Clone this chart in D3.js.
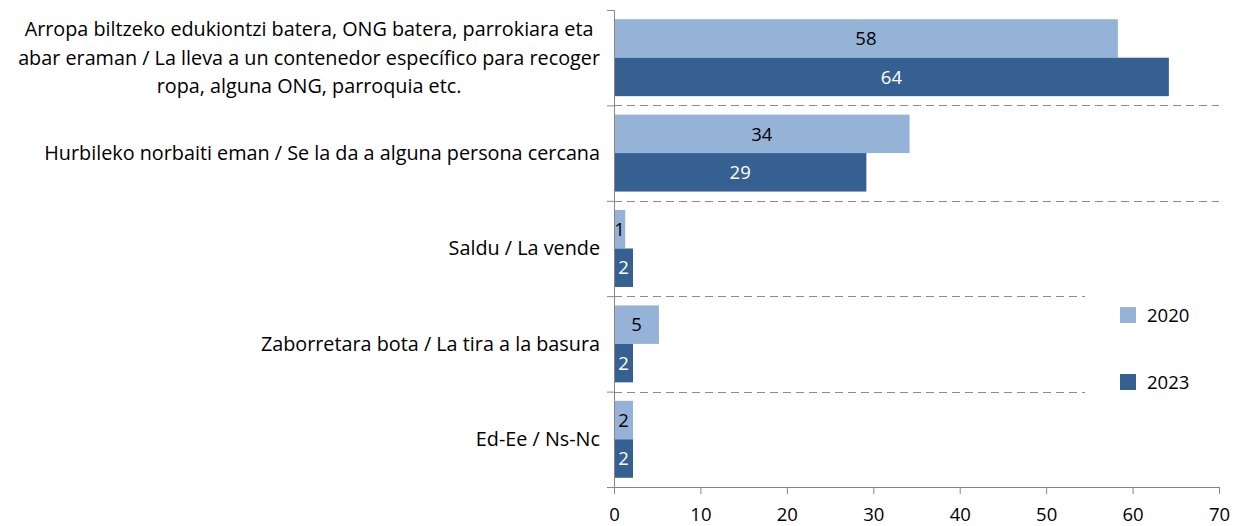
<!DOCTYPE html>
<html>
<head>
<meta charset="utf-8">
<script src="https://cdn.jsdelivr.net/npm/d3@7"></script>
<style>
  body { margin: 0; background: #fff; }
  text { font-family: "Open Sans", sans-serif; }
</style>
</head>
<body>
<script>
// categories (line breaks as in the original label)
var categories = [
  'Arropa biltzeko edukiontzi batera, ONG batera, parrokiara eta\nabar eraman / La lleva a un contenedor específico para recoger\nropa, alguna ONG, parroquia etc.',
  'Hurbileko norbaiti eman / Se la da a alguna persona cercana',
  'Saldu / La vende',
  'Zaborretara bota / La tira a la basura',
  'Ed-Ee / Ns-Nc'
]
var series = ['2020', '2023']
var values2020 = [58.3, 34.2, 1.3, 5.2, 2.2]
var values2023 = [64.2, 29.2, 2.2, 2.2, 2.2]
var xTicks = [0, 10, 20, 30, 40, 50, 60, 70]

var colors = { '2020': '#95b3d7', '2023': '#366092' }
var labelColors = { '2020': '#000', '2023': '#fff' }

var W = 1242, H = 526
var plotL = 614, plotR = 1219, plotT = 10, plotB = 487
var catFont = 19.8
  , fontSize = 18.5

var svg = d3.select('body').append('svg')
  .attr('width', W)
  .attr('height', H)

var x = d3.scaleLinear().domain([0, 70]).range([plotL, plotR])
var y = d3.scaleBand().domain(d3.range(categories.length)).range([plotT, plotB])
var sub = d3.scaleBand().domain(series).range([0, y.bandwidth()]).paddingOuter(0.24)

var rows = categories.map(function(c, i) {
  return { cat: c, i: i, vals: [
    { s: '2020', v: values2020[i] },
    { s: '2023', v: values2023[i] }
  ] }
})

// dashed separators between categories (the lower two stop short of the legend)
var gridEnds = [plotR, plotR, 1085, 1085]
svg.selectAll('line.grid').data(d3.range(1, categories.length)).enter()
  .append('line')
  .attr('class', 'grid')
  .attr('x1', plotL)
  .attr('x2', function(d, i) { return gridEnds[i] })
  .attr('y1', function(d) { return Math.round(y(d)) + 0.5 })
  .attr('y2', function(d) { return Math.round(y(d)) + 0.5 })
  .attr('stroke', '#8c8c8c')
  .attr('stroke-width', 1)
  .attr('stroke-dasharray', '8,5')

// bars
var g = svg.selectAll('g.row').data(rows).enter()
  .append('g')
  .attr('class', 'row')
  .attr('transform', function(d) { return 'translate(0,' + y(d.i) + ')' })

g.selectAll('rect').data(function(d) { return d.vals }).enter()
  .append('rect')
  .attr('x', x(0))
  .attr('y', function(d) { return sub(d.s) })
  .attr('width', function(d) { return x(d.v) - x(0) })
  .attr('height', sub.bandwidth())
  .attr('fill', function(d) { return colors[d.s] })

g.selectAll('text.val').data(function(d) { return d.vals }).enter()
  .append('text')
  .attr('class', 'val')
  .attr('x', function(d) { return (x(d.v) + x(0)) / 2 })
  .attr('y', function(d) { return sub(d.s) + sub.bandwidth() / 2 })
  .attr('dy', '0.36em')
  .attr('text-anchor', 'middle')
  .attr('font-size', fontSize)
  .attr('fill', function(d) { return labelColors[d.s] })
  .text(function(d) { return d3.format('.0f')(d.v) })

// category labels
var lineH = 28.5
g.append('text')
  .attr('text-anchor', 'middle')
  .attr('font-size', catFont)
  .attr('fill', '#000')
  .each(function(d) {
    var lines = d.cat.split('\n')
      , t = d3.select(this)
    t.selectAll('tspan').data(lines).enter()
      .append('tspan')
      .attr('x', 0)
      .attr('y', function(l, k) { return y.bandwidth() / 2 + (k - (lines.length - 1) / 2) * lineH })
      .attr('dy', '0.35em')
      .text(function(l) { return l })
  })
  .each(function() {
    // right edge of the block near the axis, lines centred among themselves
    var bb = this.getBBox()
    var cx = 600 - bb.width / 2
    d3.select(this).selectAll('tspan').attr('x', cx)
  })

// y axis
svg.append('g')
  .attr('transform', 'translate(' + plotL + ',0)')
  .call(d3.axisLeft(d3.scaleLinear().domain([0, categories.length]).range([plotT, plotB]))
    .ticks(categories.length).tickSize(7).tickFormat(''))
  .call(function(a) {
    a.select('.domain').attr('stroke', '#868686').attr('d', 'M-7,' + (plotT + 0.5) + 'H0.5V' + (plotB + 0.5))
    a.selectAll('.tick line').attr('stroke', '#868686')
  })

// x axis
svg.append('g')
  .attr('transform', 'translate(0,' + plotB + ')')
  .call(d3.axisBottom(x).tickValues(xTicks).tickSize(7).tickSizeOuter(0).tickPadding(14))
  .call(function(a) {
    a.select('.domain').attr('stroke', '#868686')
    a.selectAll('.tick line').attr('stroke', '#868686')
    a.selectAll('.tick text').attr('font-size', fontSize).attr('fill', '#000')
      .style('font-family', '"Open Sans", sans-serif')
  })

// legend
var legend = svg.selectAll('g.legend').data(series).enter()
  .append('g')
  .attr('class', 'legend')
  .attr('transform', function(d, i) { return 'translate(1120,' + (307 + i * 67) + ')' })
legend.append('rect')
  .attr('width', 16)
  .attr('height', 16)
  .attr('fill', function(d) { return colors[d] })
legend.append('text')
  .attr('x', 27)
  .attr('y', 8)
  .attr('dy', '0.36em')
  .attr('font-size', fontSize)
  .text(function(d) { return d })
</script>
</body>
</html>
